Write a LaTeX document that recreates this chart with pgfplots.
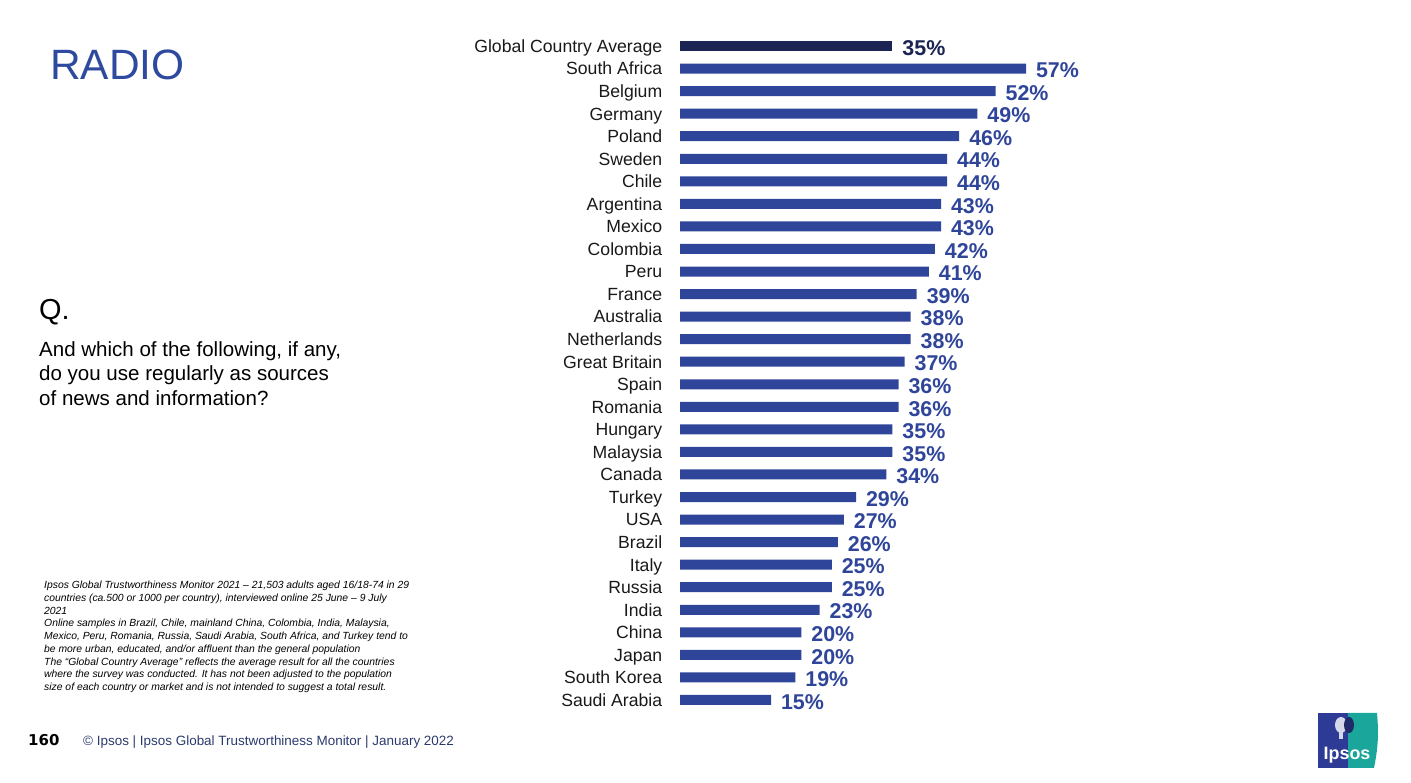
\documentclass[border=0pt]{standalone}
\usepackage{pgfplots}
\pgfplotsset{compat=1.18}
\usepackage{fontspec}
\setmainfont{Liberation Sans}
\newfontfamily\heavy{DejaVu Sans}
\definecolor{ipblue}{HTML}{2F4599}
\definecolor{ipnavy}{HTML}{1B2452}
\definecolor{iptitle}{HTML}{2E4A9E}
\definecolor{ipfoot}{HTML}{2B3A6E}
\definecolor{ipteal}{HTML}{1AA69A}
\definecolor{iplogo}{HTML}{2E3B96}
\pgfplotstableread{
val idx
57 1
52 2
49 3
46 4
44 5
44 6
43 7
43 8
42 9
41 10
39 11
38 12
38 13
37 14
36 15
36 16
35 17
35 18
34 19
29 20
27 21
26 22
25 23
25 24
23 25
20 26
20 27
19 28
15 29
}\countries
\begin{document}
\begin{tikzpicture}
\path[use as bounding box] (0,0) rectangle (1411bp,783bp);
% title and question
\node[anchor=base west, inner sep=0, text=iptitle, font=\fontsize{42.6}{44}\selectfont] at (50bp,703bp) {RADIO};
\node[anchor=base west, inner sep=0, font=\fontsize{29}{30}\selectfont] at (39bp,463bp) {Q.};
\foreach \t [count=\i] in {{And which of the following, if any,},{do you use regularly as sources},{of news and information?}}{
  \node[anchor=base west, inner sep=0, font=\fontsize{20.6}{22}\selectfont] at (39bp,{(783-357-24*(\i-1))*1bp}) {\t};
}
% footnote
\foreach \t [count=\i] in {
{Ipsos Global Trustworthiness Monitor 2021 – 21,503 adults aged 16/18-74 in 29},
{countries (ca.500 or 1000 per country), interviewed online 25 June – 9 July},
{2021},
{Online samples in Brazil, Chile, mainland China, Colombia, India, Malaysia,},
{Mexico, Peru, Romania, Russia, Saudi Arabia, South Africa, and Turkey tend to},
{be more urban, educated, and/or affluent than the general population},
{The “Global Country Average” reflects the average result for all the countries},
{where the survey was conducted. It has not been adjusted to the population},
{size of each country or market and is not intended to suggest a total result.}}{
  \node[anchor=base west, inner sep=0, font=\itshape\fontsize{10.4}{11}\selectfont] at (44bp,{(783-588.5-12.75*(\i-1))*1bp}) {\t};
}
% footer
\node[anchor=base west, inner sep=0, font=\heavy\bfseries\fontsize{15}{16}\selectfont] at (28bp,38bp) {160};
\node[anchor=base west, inner sep=0, text=ipfoot, font=\fontsize{13.5}{14}\selectfont] at (83bp,38bp) {© Ipsos | Ipsos Global Trustworthiness Monitor | January 2022};
% logo
\fill[iplogo] (1318bp,15bp) rectangle (1348bp,70bp);
\fill[ipteal] (1348bp,15bp) -- (1348bp,70bp) -- (1377bp,70bp) to[bend left=8] (1374bp,15bp) -- cycle;
\fill[white!80!iplogo] (1341bp,58bp) ellipse (6bp and 8bp);
\fill[white!80!iplogo] (1339bp,44bp) rectangle (1343bp,51bp);
\fill[iplogo!70!black] (1349bp,58bp) ellipse (5bp and 8bp);
\node[text=white, font=\bfseries\fontsize{18}{18}\selectfont, inner sep=0, anchor=base] at (1347bp,24bp) {Ipsos};
\begin{axis}[
  at={(680bp,748.275bp)}, anchor=north west,
  x=6.07bp, y=22.55bp,
  xmin=0, xmax=60, ymin=-0.5, ymax=29.5, y dir=reverse,
  xbar, bar width=10bp, bar shift=0pt,
  axis line style={draw=none}, tick style={draw=none},
  xtick=\empty,
  ytick={0,...,29},
  yticklabels={Global Country Average,South Africa,Belgium,Germany,Poland,Sweden,Chile,Argentina,Mexico,Colombia,Peru,France,Australia,Netherlands,Great Britain,Spain,Romania,Hungary,Malaysia,Canada,Turkey,USA,Brazil,Italy,Russia,India,China,Japan,South Korea,Saudi Arabia},
  yticklabel style={font=\fontsize{17.7}{18}\selectfont, text=black!90, xshift=-10bp, anchor=east, text height=12.7bp, text depth=0bp},
  /pgf/number format/assume math mode=true,
  nodes near coords={\pgfmathprintnumber{\pgfplotspointmeta}\%},
  every node near coord/.append style={font=\bfseries\fontsize{21.5}{22}\selectfont, anchor=west, text height=15.4bp, text depth=0bp, xshift=6.5bp, yshift=-1.5bp},
  point meta=x,
  clip=false,
]
\addplot[fill=ipnavy, draw=none, every node near coord/.append style={text=ipnavy}] coordinates {(35,0)};
\addplot[fill=ipblue, draw=none, every node near coord/.append style={text=ipblue}] table[x=val, y=idx] {\countries};
\end{axis}
\end{tikzpicture}
\end{document}
